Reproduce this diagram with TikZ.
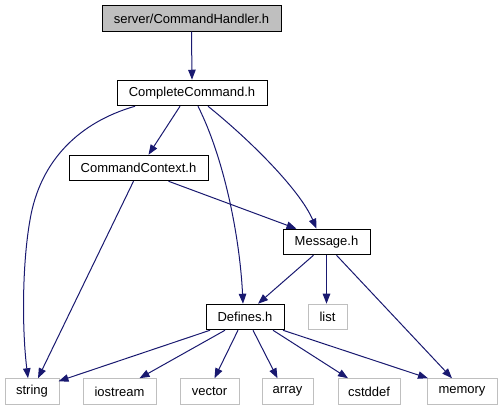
\documentclass[tikz,border=0pt]{standalone}
\usepackage{fontspec}
\setmainfont{Liberation Sans}
\usetikzlibrary{arrows.meta}
\definecolor{edgeblue}{HTML}{191970}
\definecolor{sysgray}{HTML}{BFBFBF}
\tikzset{
  box/.style={draw=black, line width=1pt, fill=white, minimum height=25.5pt, inner sep=0pt, font=\fontsize{13pt}{15pt}\selectfont},
  headbox/.style={box, fill=sysgray},
  sysbox/.style={box, draw=sysgray},
  dep/.style={draw=edgeblue, line width=1pt, -{Triangle[length=10pt,width=7.5pt]}},
}
\begin{document}
\begin{tikzpicture}[x=1pt,y=-1pt]
\useasboundingbox (0,0) rectangle (503,411);
\node[headbox, minimum width=179pt] (head) at (191.5,18.5) {server/CommandHandler.h};
\node[box, minimum width=150pt] (cc) at (192,93) {CompleteCommand.h};
\node[box, minimum width=139pt] (ctx) at (138.5,168) {CommandContext.h};
\node[box, minimum width=87pt] (msg) at (326.5,242) {Message.h};
\node[box, minimum width=78pt] (def) at (245,317) {Defines.h};
\node[sysbox, minimum width=39pt] (list) at (327.5,317) {list};
\node[sysbox, minimum width=54pt] (string) at (32,391.5) {string};
\node[sysbox, minimum width=73pt] (iostream) at (119.5,391.5) {iostream};
\node[sysbox, minimum width=59pt] (vector) at (209.5,391.5) {vector};
\node[sysbox, minimum width=51pt] (array) at (287.5,391.5) {array};
\node[sysbox, minimum width=62pt] (cstddef) at (369,391.5) {cstddef};
\node[sysbox, minimum width=70pt] (memory) at (462,391.5) {memory};

\draw[dep] (head.south) -- (cc.north);
\draw[dep] ([xshift=-57pt]cc.south) .. controls (80,122) and (40,160) .. (30,220)
  .. controls (22,265) and (22,330) .. ([xshift=-4pt]string.north);
\draw[dep] ([xshift=-12pt]cc.south) -- ([xshift=10pt]ctx.north);
\draw[dep] ([xshift=6pt]cc.south) .. controls (225,160) and (240,240) .. ([xshift=-2pt]def.north);
\draw[dep] ([xshift=16pt]cc.south) .. controls (250,140) and (300,190) .. ([xshift=-10pt]msg.north);
\draw[dep] ([xshift=30pt]ctx.south) -- ([xshift=-30pt]msg.north);
\draw[dep] ([xshift=-5pt]ctx.south) -- ([xshift=6pt]string.north);
\draw[dep] ([xshift=-13pt]msg.south) -- ([xshift=13pt]def.north);
\draw[dep] (msg.south) -- (msg.south |- list.north);
\draw[dep] ([xshift=10pt]msg.south) -- ([xshift=-10pt]memory.north);
\draw[dep] ([xshift=-35pt]def.south) -- ([xshift=-1pt,yshift=-3pt]string.north east);
\draw[dep] ([xshift=-20pt]def.south) -- ([xshift=20pt]iostream.north);
\draw[dep] ([xshift=-7pt]def.south) -- ([xshift=5pt]vector.north);
\draw[dep] ([xshift=8pt]def.south) -- ([xshift=-10pt]array.north);
\draw[dep] ([xshift=28pt]def.south) -- ([xshift=-21pt]cstddef.north);
\draw[dep] ([xshift=38pt]def.south) -- ([xshift=-34pt]memory.north);
\end{tikzpicture}
\end{document}
